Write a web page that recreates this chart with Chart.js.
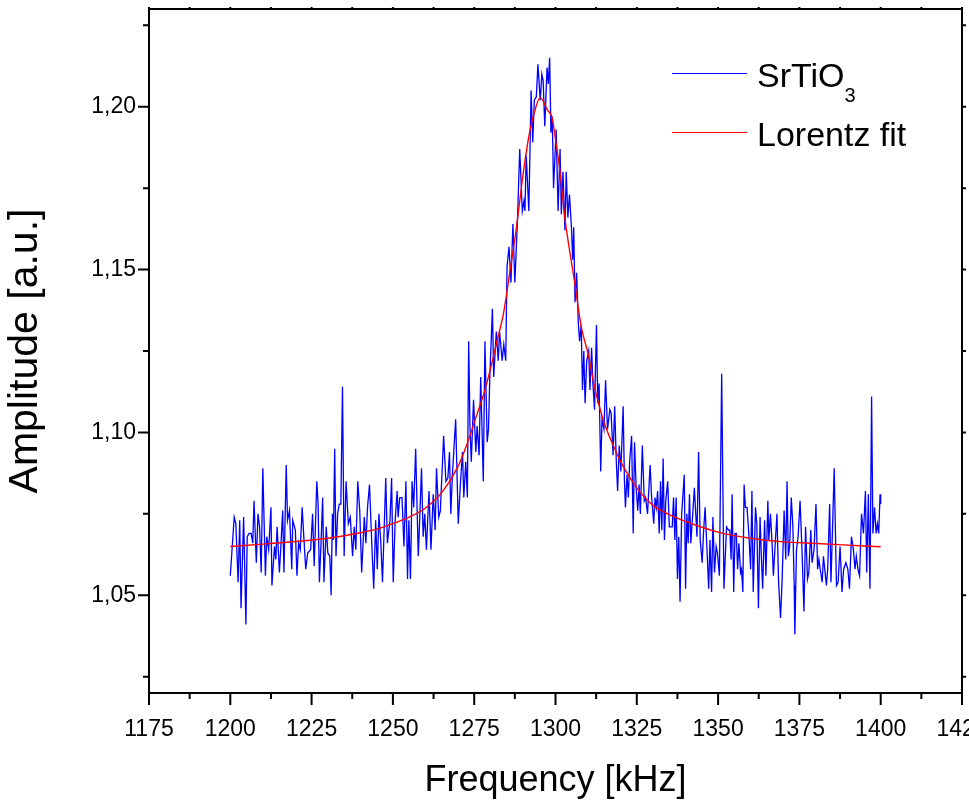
<!DOCTYPE html>
<html><head><meta charset="utf-8">
<script src="https://cdn.jsdelivr.net/npm/chart.js@4.4.1/dist/chart.umd.min.js"></script>
<style>html,body{margin:0;padding:0;background:#fff;}canvas{display:block;}</style>
</head><body>
<canvas id="c" width="969" height="805"></canvas>
<script>
// ---- data ----
const freq = [
1200.0,1201.2,1201.7,1202.4,1202.9,1203.3,1204.1,1204.8,1205.2,1205.8,1206.4,1206.9,1207.3,1208.0,1208.5,1209.0,1209.5,1210.0,1210.8,1211.2,
1211.8,1212.5,1212.8,1213.6,1214.0,1214.4,1215.1,1215.6,1216.1,1216.5,1217.2,1217.6,1218.2,1218.9,1219.2,1220.0,1220.5,1221.0,1221.5,1222.1,
1222.6,1223.2,1223.8,1224.7,1225.3,1225.8,1226.6,1227.0,1227.4,1227.9,1228.4,1228.8,1229.5,1230.0,1230.6,1231.0,1231.4,1231.7,1232.1,1232.5,
1233.0,1233.5,1234.0,1234.5,1235.0,1235.6,1236.3,1236.9,1237.6,1238.1,1238.6,1239.2,1239.8,1240.4,1241.2,1241.7,1242.2,1242.8,1243.5,1244.1,
1244.7,1245.2,1245.7,1246.3,1246.8,1247.8,1248.3,1249.1,1249.6,
1250.1,1250.7,1251.3,1251.6,1252.1,1252.8,1253.4,1254.0,1254.5,1254.9,1255.4,1255.9,1256.4,1257.0,1257.8,1258.3,1258.8,1259.3,1259.8,1260.3,
1261.1,1261.7,1262.4,1263.0,1263.4,1264.1,1264.6,1265.6,1266.3,1266.9,1267.4,1267.8,1268.3,1269.3,1270.1,1270.8,1271.4,1271.8,1272.4,1272.9,
1273.3,1273.7,1274.1,1274.8,1275.5,1275.9,1276.5,1277.0,1277.8,1278.3,1279.0,1279.4,1279.8,1280.6,1281.0,1281.8,1282.4,1282.8,1283.6,1284.1,
1284.7,1285.1,1285.7,1286.3,1286.9,1287.5,1288.3,1289.0,1289.8,1290.3,1290.6,1291.0,1291.8,1292.5,1293.0,1293.5,1294.1,1294.6,1295.3,1295.8,
1296.2,1296.7,1297.4,1297.8,1298.2,1298.6,1299.0,1299.4,1300.2,1300.8,1301.4,1301.8,1302.3,1302.9,1303.3,1303.8,1304.3,1304.9,1305.3,1305.6,
1306.0,1306.5,1307.0,1307.4,
1307.9,1308.3,1308.7,1309.1,1309.6,1310.2,1310.6,1311.1,1311.5,1312.0,1312.6,1313.0,1313.4,1313.9,1314.3,1314.9,1315.4,1316.0,1316.7,1317.1,
1317.7,1318.2,1318.7,1319.1,1319.6,1320.1,1320.8,1321.2,1321.5,1322.0,1322.4,1322.8,1323.4,1323.9,1324.3,1324.8,1325.3,1325.7,1326.1,1326.7,
1327.3,1327.7,1328.3,1329.1,1329.5,1330.2,1330.6,1331.0,1331.4,1331.9,1332.3,1332.7,1333.1,1333.5,1333.9,1334.5,1335.0,1335.5,1335.9,1336.3,
1336.7,1337.1,1337.5,1337.9,1338.3,1338.8,1339.6,1340.0,1340.4,1340.8,1341.2,1341.6,1342.2,1342.7,1343.5,1344.0,1344.5,1345.1,1345.5,1346.0,
1346.5,1347.1,1347.5,1348.0,1348.4,1348.9,1349.4,1349.8,1350.4,1351.1,
1351.8,1352.6,1353.2,1353.6,1354.0,1354.3,1354.8,1355.2,1355.6,1356.0,1356.4,1356.9,1357.2,1357.6,1358.0,1358.4,1358.9,1359.5,1360.0,1360.4,
1360.8,1361.5,1361.9,1362.4,1362.9,1363.3,1363.7,1364.3,1364.7,1365.3,1365.6,1366.1,1366.6,1367.0,1367.4,1368.1,1368.6,1369.2,1369.7,1370.3,
1370.8,1371.2,1371.6,1372.0,1372.5,1373.0,1373.4,1373.6,1374.1,1374.6,1375.2,1375.8,1376.4,1376.9,1377.5,1377.9,1378.5,1378.9,1379.5,1380.1,
1380.6,1381.0,1381.4,1382.0,1382.4,1383.0,1383.3,1383.7,1384.3,1384.7,1385.2,1385.7,1386.4,1386.9,1387.5,1388.1,1388.6,1389.3,1389.9,1390.4,
1391.0,1391.6,1392.1,1392.5,1393.0,1393.5,1394.1,1394.7,1395.3,1395.7,1396.2,1396.7,1397.2,1397.6,1398.1,1398.6,1399.0,1399.4,1399.8,1400.0
];
const amp = [
1.056,1.074,1.072,1.054,1.073,1.046,1.074,1.041,1.068,1.069,1.069,1.066,1.079,1.060,1.075,1.071,1.057,1.089,1.056,1.068,
1.064,1.077,1.053,1.065,1.061,1.071,1.057,1.066,1.076,1.057,1.090,1.073,1.076,1.058,1.073,1.070,1.056,1.066,1.064,1.077,
1.068,1.058,1.063,1.064,1.075,1.059,1.085,1.078,1.054,1.066,1.080,1.054,1.071,1.063,1.062,1.050,1.075,1.067,1.095,1.062,
1.075,1.078,1.078,1.114,1.062,1.085,1.072,1.074,1.062,1.071,1.064,1.085,1.076,1.057,1.074,1.066,1.077,1.084,1.066,1.052,
1.073,1.058,1.075,1.066,1.054,1.086,1.066,1.073,1.086,
1.054,1.073,1.082,1.074,1.080,1.080,1.065,1.085,1.055,1.073,1.055,1.085,1.077,1.095,1.062,1.075,1.089,1.068,1.075,1.064,
1.082,1.064,1.081,1.070,1.089,1.074,1.076,1.099,1.085,1.086,1.094,1.075,1.087,1.104,1.072,1.085,1.094,1.080,1.091,1.080,
1.128,1.102,1.091,1.110,1.094,1.102,1.093,1.117,1.085,1.128,1.097,1.101,1.117,1.138,1.117,1.131,1.122,1.131,1.122,1.127,
1.122,1.151,1.157,1.146,1.164,1.146,1.165,1.187,1.168,1.171,1.168,1.185,1.168,1.205,1.189,1.202,1.203,1.213,1.202,1.210,
1.208,1.194,1.212,1.207,1.215,1.192,1.197,1.175,1.193,1.168,1.187,1.167,1.180,1.162,1.180,1.166,1.173,1.163,1.153,1.163,
1.140,1.149,1.134,1.128,
1.133,1.113,1.125,1.109,1.122,1.125,1.113,1.126,1.115,1.107,1.133,1.109,1.115,1.088,1.104,1.101,1.116,1.101,1.107,1.106,
1.093,1.108,1.091,1.082,1.096,1.088,1.108,1.085,1.077,1.087,1.080,1.091,1.099,1.069,1.097,1.083,1.076,1.084,1.075,1.096,
1.079,1.080,1.075,1.090,1.081,1.072,1.080,1.077,1.082,1.069,1.085,1.070,1.092,1.067,1.079,1.085,1.071,1.071,1.071,1.080,
1.067,1.080,1.055,1.068,1.048,1.075,1.087,1.052,1.075,1.066,1.081,1.066,1.075,1.083,1.068,1.094,1.067,1.060,1.069,1.077,
1.066,1.052,1.067,1.051,1.074,1.057,1.065,1.063,1.056,1.118,
1.052,1.071,1.070,1.070,1.061,1.081,1.051,1.069,1.069,1.058,1.066,1.057,1.058,1.051,1.084,1.077,1.077,1.068,1.058,1.082,
1.051,1.077,1.072,1.046,1.074,1.062,1.052,1.073,1.056,1.079,1.067,1.075,1.066,1.056,1.063,1.075,1.054,1.043,1.055,1.076,
1.061,1.085,1.062,1.065,1.080,1.071,1.053,1.038,1.064,1.068,1.079,1.064,1.045,1.071,1.055,1.057,1.070,1.060,1.064,1.078,
1.058,1.061,1.058,1.054,1.062,1.056,1.053,1.058,1.078,1.054,1.071,1.089,1.053,1.054,1.065,1.051,1.058,1.060,1.058,1.052,
1.068,1.064,1.058,1.062,1.058,1.056,1.075,1.069,1.082,1.057,1.081,1.052,1.111,1.069,1.077,1.069,1.072,1.069,1.081,1.078
];
const fitFreq = [1200,1210,1220,1230,1240,1245,1250,1255,1260,1265,1270,1273,1276,1278,1280,1282,1284,1286,1288,1290,1292,1294,1295.3,1297.5,1299,1300,1301.2,1303,1305.8,1308,1310,1312,1315,1318,1320,1325,1330,1335,1340,1345,1350,1360,1370,1380,1390,1400];
const fitAmp = [1.0650,1.0657,1.0665,1.0675,1.0692,1.0703,1.0720,1.0740,1.0768,1.0815,1.0895,1.0970,1.1060,1.1120,1.1195,1.1280,1.1365,1.1495,1.1630,1.1790,1.1920,1.2000,1.2028,1.1990,1.1965,1.1900,1.1815,1.1650,1.1467,1.1320,1.1243,1.1140,1.1029,1.0955,1.0911,1.0830,1.0776,1.0748,1.0727,1.0709,1.0694,1.0675,1.0664,1.0659,1.0654,1.0649];
const xTicks = [1175,1200,1225,1250,1275,1300,1325,1350,1375,1400,1425];
const xMinorTicks = [1187.5,1212.5,1237.5,1262.5,1287.5,1312.5,1337.5,1362.5,1387.5,1412.5];
const yTicks = [1.05,1.10,1.15,1.20];
const yTickLabels = ['1,05','1,10','1,15','1,20'];
const yMinorTicks = [1.025,1.075,1.125,1.175,1.225];
const seriesNames = ['SrTiO', 'Lorentz fit'];
const xTitle = 'Frequency [kHz]';
const yTitle = 'Amplitude [a.u.]';

const FONT = "'Liberation Sans', Arial, Helvetica, sans-serif";
Chart.defaults.font.family = FONT;
Chart.defaults.color = '#000';

const framePlugin = {
  id: 'frame',
  afterDraw(chart) {
    const ctx = chart.ctx, a = chart.chartArea;
    const xs = chart.scales.x, ys = chart.scales.y;
    ctx.save();
    ctx.strokeStyle = '#000';
    ctx.lineWidth = 2;
    ctx.strokeRect(a.left, a.top, a.right - a.left, a.bottom - a.top);
    ctx.beginPath();
    xTicks.forEach(v => { const p = xs.getPixelForValue(v); ctx.moveTo(p, a.bottom); ctx.lineTo(p, a.bottom + 12); ctx.moveTo(p, a.top); ctx.lineTo(p, a.top - 2); });
    xMinorTicks.forEach(v => { const p = xs.getPixelForValue(v); ctx.moveTo(p, a.bottom); ctx.lineTo(p, a.bottom + 6); ctx.moveTo(p, a.top); ctx.lineTo(p, a.top - 2); });
    yTicks.forEach(v => { const p = ys.getPixelForValue(v); ctx.moveTo(a.left, p); ctx.lineTo(a.left - 11, p); ctx.moveTo(a.right, p); ctx.lineTo(a.right + 4, p); });
    yMinorTicks.forEach(v => { const p = ys.getPixelForValue(v); ctx.moveTo(a.left, p); ctx.lineTo(a.left - 6, p); ctx.moveTo(a.right, p); ctx.lineTo(a.right + 4, p); });
    ctx.stroke();

    // legend
    const lx0 = 672, lx1 = 747, tx = 757;
    ctx.lineWidth = 1;
    ctx.strokeStyle = '#0000ff';
    ctx.beginPath(); ctx.moveTo(lx0, 73.5); ctx.lineTo(lx1, 73.5); ctx.stroke();
    ctx.strokeStyle = '#ff0000';
    ctx.beginPath(); ctx.moveTo(lx0, 132.5); ctx.lineTo(lx1, 132.5); ctx.stroke();
    ctx.fillStyle = '#000';
    ctx.textBaseline = 'alphabetic';
    ctx.textAlign = 'left';
    ctx.font = '34px ' + FONT;
    ctx.fillText(seriesNames[0], tx, 87);
    const w = ctx.measureText(seriesNames[0]).width;
    ctx.font = '20px ' + FONT;
    ctx.fillText('3', tx + w, 102);
    ctx.font = '34px ' + FONT;
    ctx.fillText(seriesNames[1], tx, 146);
    ctx.restore();
  }
};

new Chart(document.getElementById('c'), {
  type: 'line',
  data: {
    datasets: [
      { label: 'SrTiO3', data: freq.map((f, i) => ({x: f, y: amp[i]})), borderColor: '#0000ff', borderWidth: 1.3, pointRadius: 0, tension: 0, order: 1 },
      { label: 'Lorentz fit', data: fitFreq.map((f, i) => ({x: f, y: fitAmp[i]})), borderColor: '#ff0000', borderWidth: 1.4, pointRadius: 0, cubicInterpolationMode: 'monotone', order: 0 }
    ]
  },
  options: {
    responsive: false,
    animation: false,
    devicePixelRatio: 1,
    layout: { padding: { left: 0, top: 9, right: 7, bottom: 0 } },
    plugins: { legend: { display: false }, tooltip: { enabled: false } },
    scales: {
      x: {
        type: 'linear', min: 1175, max: 1425,
        grid: { display: false, drawTicks: false }, border: { display: false },
        afterBuildTicks(s) { s.ticks = xTicks.map(v => ({value: v})); },
        afterFit(s) { s.height = 112; s.paddingLeft = 0; s.paddingRight = 0; },
        ticks: { autoSkip: false, maxRotation: 0, padding: 23, font: { size: 23 }, color: '#000', callback: v => String(v) },
        title: { display: true, text: xTitle, font: { size: 36 }, color: '#000', padding: { top: 0, bottom: 2 } }
      },
      y: {
        type: 'linear', min: 1.02, max: 1.23,
        grid: { display: false, drawTicks: false }, border: { display: false },
        afterBuildTicks(s) { s.ticks = yTicks.map(v => ({value: v})); },
        afterFit(s) { s.width = 149; s.paddingTop = 0; s.paddingBottom = 0; },
        ticks: { autoSkip: false, padding: 13, font: { size: 23 }, color: '#000', callback: (v, i) => yTickLabels[i] },
        title: { display: true, text: yTitle, font: { size: 41 }, color: '#000', padding: { top: 1, bottom: 0 } }
      }
    }
  },
  plugins: [framePlugin]
});
</script>
</body></html>
